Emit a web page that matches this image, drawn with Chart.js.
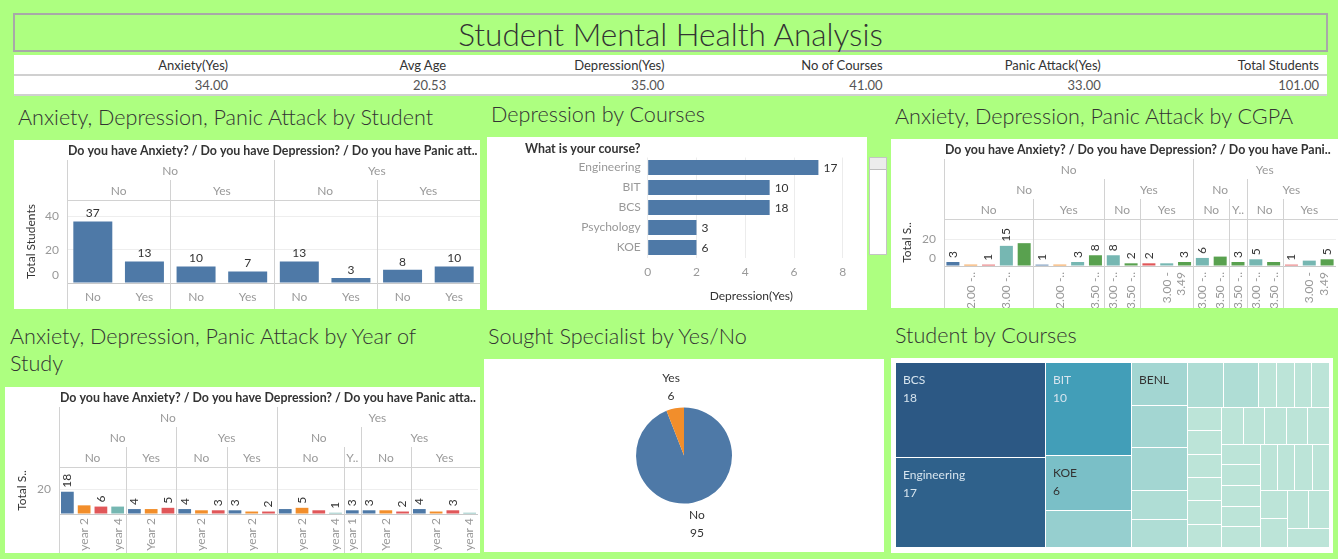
<!DOCTYPE html>
<html><head><meta charset="utf-8">
<script src="https://cdn.jsdelivr.net/npm/chart.js@4.4.1/dist/chart.umd.min.js"></script>
<style>
html,body{margin:0;padding:0;}
body{width:1338px;height:559px;background:#adff80;position:relative;overflow:hidden;font-family:Lato,"Open Sans",sans-serif;color:#333;}
.abs{position:absolute;}
.panel{position:absolute;background:#fff;}
.ptitle{position:absolute;font-size:21.6px;font-weight:300;color:#333;white-space:nowrap;line-height:27px;}
canvas{display:block;}
#kpi div{position:absolute;font-size:13px;text-align:right;white-space:nowrap;}
</style></head><body>
<div class="abs" style="left:13px;top:13px;width:1311px;height:35px;border:2px solid #a8a8a8;text-align:center;font-size:31.5px;font-weight:300;line-height:38px;color:#333;">Student Mental Health Analysis</div>
<div class="abs" id="kpi" style="left:14px;top:55px;width:1313px;height:39px;background:#fff;border-bottom:2px solid #d0d0d0;">
  <div style="left:0;top:19px;width:1313px;height:0;border-top:2px solid #d0d0d0;"></div>
</div>

<div class="ptitle" style="left:18px;top:104px;">Anxiety, Depression, Panic Attack by Student</div>
<div class="ptitle" style="left:491px;top:101px;">Depression by Courses</div>
<div class="ptitle" style="left:895px;top:103px;">Anxiety, Depression, Panic Attack by CGPA</div>
<div class="ptitle" style="left:10px;top:323px;">Anxiety, Depression, Panic Attack by Year of<br>Study</div>
<div class="ptitle" style="left:488px;top:323px;">Sought Specialist by Yes/No</div>
<div class="ptitle" style="left:895px;top:322px;">Student by Courses</div>

<div class="panel" style="left:14px;top:140px;"><canvas id="c1" width="466" height="169"></canvas></div>
<div class="panel" style="left:487px;top:137px;"><canvas id="c2" width="380" height="173"></canvas></div>
<div class="panel" style="left:891px;top:139px;"><canvas id="c3" width="447" height="169"></canvas></div>
<div class="panel" style="left:5px;top:387px;"><canvas id="c4" width="475" height="166"></canvas></div>
<div class="panel" style="left:484px;top:359px;"><canvas id="c5" width="400" height="193"></canvas></div>
<div class="panel" style="left:891px;top:358px;"><canvas id="c6" width="442" height="195"></canvas></div>

<div class="abs" style="left:869px;top:157px;width:16px;height:96px;background:#fff;border:1px solid #c4c4c4;">
  <div style="position:absolute;left:0;top:0;width:16px;height:11px;background:#ececec;border-bottom:1px solid #bdbdbd;"></div>
</div>

<script>
// ---------------- DATA ----------------
const kpiNames  = ['Anxiety(Yes)', 'Avg Age', 'Depression(Yes)', 'No of Courses', 'Panic Attack(Yes)', 'Total Students'];
const kpiValues = [34, 20.53, 35, 41, 33, 101];

// the 8 answer combinations (Anxiety / Depression / Panic attack)
const paneAnxiety   = ['No', 'No', 'No', 'No', 'Yes', 'Yes', 'Yes', 'Yes'];
const paneDepression= ['No', 'No', 'Yes', 'Yes', 'No', 'No', 'Yes', 'Yes'];
const panePanic     = ['No', 'Yes', 'No', 'Yes', 'No', 'Yes', 'No', 'Yes'];
const studentTotals = [37, 13, 10, 7, 13, 3, 8, 10];

// Depression by courses
const depCourses     = ['Engineering', 'BIT', 'BCS', 'Psychology', 'KOE'];
const depYes         = [7, 5, 5, 2, 2];
const depLabels      = ['17', '10', '18', '3', '6'];

// CGPA
const cgpaBins        = ['0 - 1.99', '2.00 - 2.49', '2.50 - 2.99', '3.00 - 3.49', '3.50 - 4.00'];
const cgpaPane        = [0,0,0,0,0, 1,1,1,1, 2,2, 3,3,3, 4,4, 5, 6,6, 7,7,7];
const cgpaBin         = [0,1,2,3,4, 0,1,3,4, 3,4, 2,3,4, 3,4, 4, 3,4, 2,3,4];
const cgpaValues      = [3,1,1,15,17, 1,1,3,8, 8,2, 2,2,3, 6,7, 3, 5,3, 1,4,5];
const cgpaValueLabels = ['3','','1','15','', '1','','3','8', '8','2', '2','','3', '6','', '3', '5','', '1','','5'];
const cgpaTickLabels  = ['','2.00 -..','','3.00 -..','', '','2.00 -..','','3.50 -..', '3.00 -..','3.50 -..',
                         '',['3.00 -','3.49'],'', '3.00 -..','3.50 -..', '3.50 -..', '3.00 -..','3.50 -..', '',['3.00 -','3.49'],''];

// Year of study
const years           = ['year 1', 'year 2', 'year 3', 'year 4'];
const yearPane        = [0,0,0,0, 1,1,1, 2,2,2, 3,3,3, 4,4,4,4, 5, 6,6,6, 7,7,7,7];
const yearBin         = [0,1,2,3, 0,1,2, 0,1,2, 0,1,2, 0,1,2,3, 0, 0,1,2, 0,1,2,3];
const yearValues      = [18,7,6,6, 4,4,5, 4,3,3, 3,2,2, 4,5,3,1, 3, 3,3,2, 4,2,3,1];
const yearValueLabels = ['18','','6','', '4','','5', '4','','3', '3','','2', '','5','','1', '3', '3','','2', '4','','3',''];
const yearTickLabels  = ['','year 2','','year 4', '','Year 2','', '','year 2','', '','year 2','', '','year 2','','year 4',
                         'year 1', '','Year 2','', '','year 2','','year 4'];

// Sought specialist
const specialistLabels = ['No', 'Yes'];
const specialistValues = [95, 6];

// Student by courses (treemap)
const courseNames  = ['BCS','Engineering','BIT','KOE','Biomedical science','BENL','Psychology','Islamic education',
  'Laws','Engine','Marine science','Pendidikan islam',
  'Mathemathics','Human Resources','Irkhs','KENMS','Accounting','ENM','Banking Studies','Business Administration','Law',
  'Usuluddin','TAASL','ALA','koe','Kirkhs','Benl','IT','CTS','engin','Econs','MHSC','Malcom','Kop','Human Sciences',
  'Biotechnology','Communication','Diploma Nursing','Radiography','Fiqh fatwa','DIPLOMA TESL'];
const courseCounts = [18,17,10,6,4,3,3,3,2,2,2,2,
  1,1,1,1,1,1,1,1,1,1,1,1,1,1,1,1,1,1,1,1,1,1,1,1,1,1,1,1,1];

// ---------------- STYLE ----------------
const FONT = 'Lato, "Open Sans", sans-serif';
const TAB10 = ['#4e79a7', '#f28e2b', '#e15759', '#76b7b2', '#59a14f'];
const HEADER = 'Do you have Anxiety? / Do you have Depression? / Do you have Panic attack?';
Chart.defaults.font.family = FONT;
Chart.defaults.font.size = 12;
Chart.defaults.color = '#999';

// KPI table
(function(){
  const k = document.getElementById('kpi');
  kpiNames.forEach((nm, i) => {
    const left = -4 + i * 218.2;
    const h = document.createElement('div');
    h.style.cssText = `left:${left}px;top:2px;width:218px;color:#333;`;
    h.textContent = nm; k.appendChild(h);
    const v = document.createElement('div');
    v.style.cssText = `left:${left}px;top:22px;width:218px;color:#555;`;
    v.textContent = kpiValues[i].toFixed(2); k.appendChild(v);
  });
})();

function fitText(ctx, t, w) {
  if (ctx.measureText(t).width <= w) return t;
  let s = t;
  while (s.length > 1 && ctx.measureText(s + '..').width > w) s = s.slice(0, -1);
  return s.replace(/\s+$/, '') + '..';
}
const crisp = v => Math.round(v) + 0.5;

function panesPlugin(cfg) {
  return {
    id: 'panes',
    afterDraw(chart) {
      const ctx = chart.ctx, ca = chart.chartArea, xs = chart.scales.x, ys = chart.scales.y;
      const W = chart.width, H = chart.height, n = cfg.values.length;
      const slot = xs.getPixelForValue(1) - xs.getPixelForValue(0);
      const edge = i => xs.getPixelForValue(i) - slot / 2;
      ctx.save();
      ctx.strokeStyle = '#d2d2d2'; ctx.lineWidth = 1;
      const vline = (x, y0, y1) => { ctx.beginPath(); ctx.moveTo(crisp(x), y0); ctx.lineTo(crisp(x), y1); ctx.stroke(); };
      const L = cfg.levels.length, rowH = cfg.rowH, top0 = ca.top - L * rowH;
      ctx.beginPath(); ctx.moveTo(ca.left, crisp(ca.top)); ctx.lineTo(W, crisp(ca.top)); ctx.stroke();
      vline(ca.left, top0, H);
      const drawn = new Set();
      ctx.textBaseline = 'middle';
      for (let l = 0; l < L; l++) {
        const y0 = top0 + l * rowH;
        const key = i => cfg.levels.slice(0, l + 1).map(a => a[i]).join('|');
        let s = 0;
        for (let i = 1; i <= n; i++) {
          if (i === n || key(i) !== key(s)) {
            const xa = edge(s), xb = i === n ? ca.right : edge(i);
            ctx.font = '12px ' + FONT; ctx.fillStyle = '#999'; ctx.textAlign = 'center';
            ctx.fillText(fitText(ctx, cfg.levels[l][s], xb - xa - 4), (xa + xb) / 2, y0 + rowH / 2 + 1);
            if (s > 0 && !drawn.has(s)) { vline(xa, y0, H); drawn.add(s); }
            s = i;
          }
        }
      }
      // header
      ctx.font = 'bold 12.4px ' + FONT; ctx.fillStyle = '#333'; ctx.textAlign = 'left';
      ctx.fillText(fitText(ctx, cfg.header, W - ca.left - 3), ca.left + 1, cfg.headerY);
      // y tick labels
      ctx.font = '12px ' + FONT; ctx.fillStyle = '#999'; ctx.textAlign = 'right';
      cfg.yLabels.forEach(v => {
        const py = Math.min(ys.getPixelForValue(v), ca.bottom - 8);
        ctx.fillText(String(v), ca.left - 8, py);
      });
      // value labels
      const meta = chart.getDatasetMeta(0);
      ctx.fillStyle = '#333'; ctx.font = '12px ' + FONT;
      meta.data.forEach((el, i) => {
        const t = cfg.valueLabels[i]; if (!t) return;
        if (cfg.rotateValues) {
          ctx.save(); ctx.translate(el.x, el.y - 4); ctx.rotate(-Math.PI / 2);
          ctx.textAlign = 'left'; ctx.textBaseline = 'middle'; ctx.fillText(t, 0, 0); ctx.restore();
        } else {
          ctx.textAlign = 'center'; ctx.textBaseline = 'bottom'; ctx.fillText(t, el.x, el.y - 2);
        }
      });
      ctx.restore();
    }
  };
}

function paneChart(id, cfg) {
  const canvas = document.getElementById(id);
  return new Chart(canvas, {
    type: 'bar',
    data: { labels: cfg.tickLabels, datasets: [{ data: cfg.values, backgroundColor: cfg.colors, borderWidth: 0,
      barPercentage: cfg.barPct, categoryPercentage: 1 }] },
    options: {
      responsive: false, animation: false, devicePixelRatio: 1,
      layout: { padding: { top: cfg.top, right: cfg.padR, left: 0, bottom: 0 } },
      plugins: { legend: { display: false }, tooltip: { enabled: false } },
      scales: {
        x: { grid: { display: false, drawTicks: false }, border: { display: false },
             ticks: { autoSkip: false, color: '#999', padding: cfg.tickPad, minRotation: cfg.rot, maxRotation: cfg.rot },
             afterFit: s => { s.height = cfg.xAxisH; s.paddingLeft = 0; s.paddingRight = 0; } },
        y: { min: 0, max: cfg.yMax,
             afterBuildTicks: s => { s.ticks = cfg.grid.map(v => ({ value: v })); },
             grid: { color: c => (c.tick && c.tick.value === 0) ? '#c9c9c9' : '#eeeeee', drawTicks: false },
             border: { display: false }, ticks: { display: false },
             title: { display: true, text: cfg.yTitle, color: '#333', font: { size: 12 }, padding: { top: cfg.titlePad, bottom: 0 } },
             afterFit: s => { s.width = cfg.axisW; } }
      }
    },
    plugins: [panesPlugin(cfg)]
  });
}

// Chart 1: by student
paneChart('c1', {
  levels: [paneAnxiety, paneDepression], values: studentTotals, colors: TAB10[0],
  tickLabels: panePanic, valueLabels: studentTotals.map(String), rotateValues: false,
  header: HEADER, headerY: 11, rowH: 20, top: 60, padR: 0, axisW: 53, xAxisH: 26,
  yMax: 50, grid: [0, 20, 40], yLabels: [0, 20, 40], yTitle: 'Total Students', titlePad: 10,
  barPct: 0.755, tickPad: 7, rot: 0
});

// Chart 3: by CGPA
paneChart('c3', {
  levels: [cgpaPane.map(p => paneAnxiety[p]), cgpaPane.map(p => paneDepression[p]), cgpaPane.map(p => panePanic[p])],
  values: cgpaValues, colors: cgpaBin.map(b => TAB10[b]),
  tickLabels: cgpaTickLabels, valueLabels: cgpaValueLabels, rotateValues: true,
  header: HEADER, headerY: 11, rowH: 20, top: 80, padR: 2, axisW: 53, xAxisH: 42,
  yMax: 35, grid: [0, 20], yLabels: [0, 20], yTitle: 'Total S..', titlePad: 9,
  barPct: 0.73, tickPad: 6, rot: 90
});

// Chart 4: by year of study
paneChart('c4', {
  levels: [yearPane.map(p => paneAnxiety[p]), yearPane.map(p => paneDepression[p]), yearPane.map(p => panePanic[p])],
  values: yearValues, colors: yearBin.map(b => TAB10[b]),
  tickLabels: yearTickLabels, valueLabels: yearValueLabels, rotateValues: true,
  header: HEADER, headerY: 11, rowH: 20, top: 80, padR: 2, axisW: 54, xAxisH: 39,
  yMax: 38, grid: [0, 20], yLabels: [20], yTitle: 'Total S..', titlePad: 10,
  barPct: 0.76, tickPad: 4, rot: 90
});

// Chart 2: depression by courses
new Chart(document.getElementById('c2'), {
  type: 'bar',
  data: { labels: depCourses, datasets: [{ data: depYes, backgroundColor: TAB10[0], borderWidth: 0, barPercentage: 0.75, categoryPercentage: 1 }] },
  options: {
    indexAxis: 'y', responsive: false, animation: false, devicePixelRatio: 1,
    layout: { padding: { top: 20.5, right: 12, left: 0, bottom: 0 } },
    plugins: { legend: { display: false }, tooltip: { enabled: false } },
    scales: {
      y: { grid: { display: false, drawTicks: false }, border: { display: false }, ticks: { color: '#999', padding: 7 },
           afterFit: s => { s.width = 160.7; } },
      x: { min: 0, max: 8.5, afterBuildTicks: s => { s.ticks = [0, 2, 4, 6, 8].map(v => ({ value: v })); },
           grid: { color: '#ececec', drawTicks: false }, border: { display: false },
           ticks: { color: '#999', padding: 7 },
           title: { display: true, text: 'Depression(Yes)', color: '#333', font: { size: 12 }, padding: { top: 0, bottom: 7 } },
           afterFit: s => { s.height = 52.5; s.paddingLeft = 0; s.paddingRight = 0; } }
    }
  },
  plugins: [{
    id: 'courseLabels',
    afterDraw(chart) {
      const ctx = chart.ctx;
      ctx.save();
      ctx.font = 'bold 12.4px ' + FONT; ctx.fillStyle = '#333'; ctx.textAlign = 'left'; ctx.textBaseline = 'middle';
      ctx.fillText('What is your course?', 38, 12);
      ctx.font = '12px ' + FONT;
      chart.getDatasetMeta(0).data.forEach((el, i) => ctx.fillText(depLabels[i], el.x + 5, el.y + 1));
      ctx.restore();
    }
  }]
});

// Chart 5: pie
new Chart(document.getElementById('c5'), {
  type: 'pie',
  data: { labels: specialistLabels, datasets: [{ data: specialistValues, backgroundColor: [TAB10[0], TAB10[1]], borderWidth: 0 }] },
  options: {
    responsive: false, animation: false, devicePixelRatio: 1,
    layout: { padding: { top: 48.5, bottom: 48.5, left: 152, right: 152 } },
    plugins: { legend: { display: false }, tooltip: { enabled: false } }
  },
  plugins: [{
    id: 'pieLabels',
    afterDraw(chart) {
      const ctx = chart.ctx;
      ctx.save();
      ctx.font = '12px ' + FONT; ctx.fillStyle = '#333'; ctx.textAlign = 'center'; ctx.textBaseline = 'middle';
      chart.getDatasetMeta(0).data.forEach((arc, i) => {
        const mid = (arc.startAngle + arc.endAngle) / 2, r = arc.outerRadius + 22;
        const px = arc.x + Math.cos(mid) * r, py = arc.y + Math.sin(mid) * r;
        ctx.fillText(specialistLabels[i], px, py - 9);
        ctx.fillText(String(specialistValues[i]), px, py + 9);
      });
      ctx.restore();
    }
  }]
});

// Chart 6: treemap
function squarify(vals, W, H) {
  const K = 1.8;
  const total = vals.reduce((a, b) => a + b, 0), unit = W * H / total;
  const areas = vals.map(v => v * unit);
  const worst = (row, side) => {
    const s = row.reduce((a, b) => a + b, 0), t = s / side;
    return Math.max(...row.map(a => { const o = a / t; return Math.max(o / t, t / o); }));
  };
  const rects = [];
  let x = 0, y = 0, w = W, h = H, i = 0;
  while (i < areas.length) {
    const side = Math.min(w, h);
    const row = [areas[i]]; let best = worst(row, side); let j = i + 1;
    while (j < areas.length) {
      const r = worst(row.concat(areas[j]), side);
      if (r <= best * K) { row.push(areas[j]); best = Math.min(best, r); j++; } else break;
    }
    const sum = row.reduce((a, b) => a + b, 0), thick = sum / side;
    let off = 0;
    row.forEach(a => {
      const len = a / thick;
      if (w >= h) rects.push([x, y + off, x + thick, y + off + len]);
      else rects.push([x + off, y, x + off + len, y + thick]);
      off += len;
    });
    if (w >= h) { x += thick; w -= thick; } else { y += thick; h -= thick; }
    i = j;
  }
  return rects;
}
const TM_STOPS = [[0, [188, 228, 216]], [0.176, [150, 207, 207]], [0.53, [66, 158, 184]], [1, [44, 88, 132]]];
function tmColor(v, vmin, vmax) {
  const t = (v - vmin) / (vmax - vmin);
  for (let k = 1; k < TM_STOPS.length; k++) {
    if (t <= TM_STOPS[k][0]) {
      const [t0, c0] = TM_STOPS[k - 1], [t1, c1] = TM_STOPS[k], f = (t - t0) / (t1 - t0);
      return `rgb(${c0.map((c, q) => Math.round(c + (c1[q] - c) * f)).join(',')})`;
    }
  }
  return 'rgb(44,88,132)';
}
new Chart(document.getElementById('c6'), {
  type: 'scatter',
  data: { datasets: [{ data: [] }] },
  options: {
    responsive: false, animation: false, devicePixelRatio: 1,
    layout: { padding: { left: 5, top: 5, right: 3, bottom: 5 } },
    plugins: { legend: { display: false }, tooltip: { enabled: false } },
    scales: { x: { type: 'linear', min: 0, max: 1, display: false }, y: { min: 0, max: 1, reverse: true, display: false } }
  },
  plugins: [{
    id: 'treemap',
    afterDraw(chart) {
      const ctx = chart.ctx, ca = chart.chartArea, xs = chart.scales.x, ys = chart.scales.y;
      const aw = ca.right - ca.left, ah = ca.bottom - ca.top;
      const rects = squarify(courseCounts, aw, ah);
      const vmin = Math.min(...courseCounts), vmax = Math.max(...courseCounts);
      ctx.save();
      rects.forEach((r, i) => {
        const x0 = Math.round(xs.getPixelForValue(r[0] / aw)), x1 = Math.round(xs.getPixelForValue(r[2] / aw));
        const y0 = Math.round(ys.getPixelForValue(r[1] / ah)), y1 = Math.round(ys.getPixelForValue(r[3] / ah));
        ctx.fillStyle = tmColor(courseCounts[i], vmin, vmax);
        ctx.fillRect(x0, y0, x1 - x0 - 1, y1 - y0 - 1);
        const w = x1 - x0, h = y1 - y0;
        ctx.font = '12px ' + FONT; ctx.textAlign = 'left'; ctx.textBaseline = 'middle';
        ctx.fillStyle = courseCounts[i] >= 10 ? '#d6e4ee' : '#333';
        if (h >= 30 && ctx.measureText(courseNames[i]).width <= w - 14) {
          ctx.fillText(courseNames[i], x0 + 7, y0 + 17);
          if (h >= 50) ctx.fillText(String(courseCounts[i]), x0 + 7, y0 + 35);
        }
      });
      ctx.restore();
    }
  }]
});
</script>
</body></html>
